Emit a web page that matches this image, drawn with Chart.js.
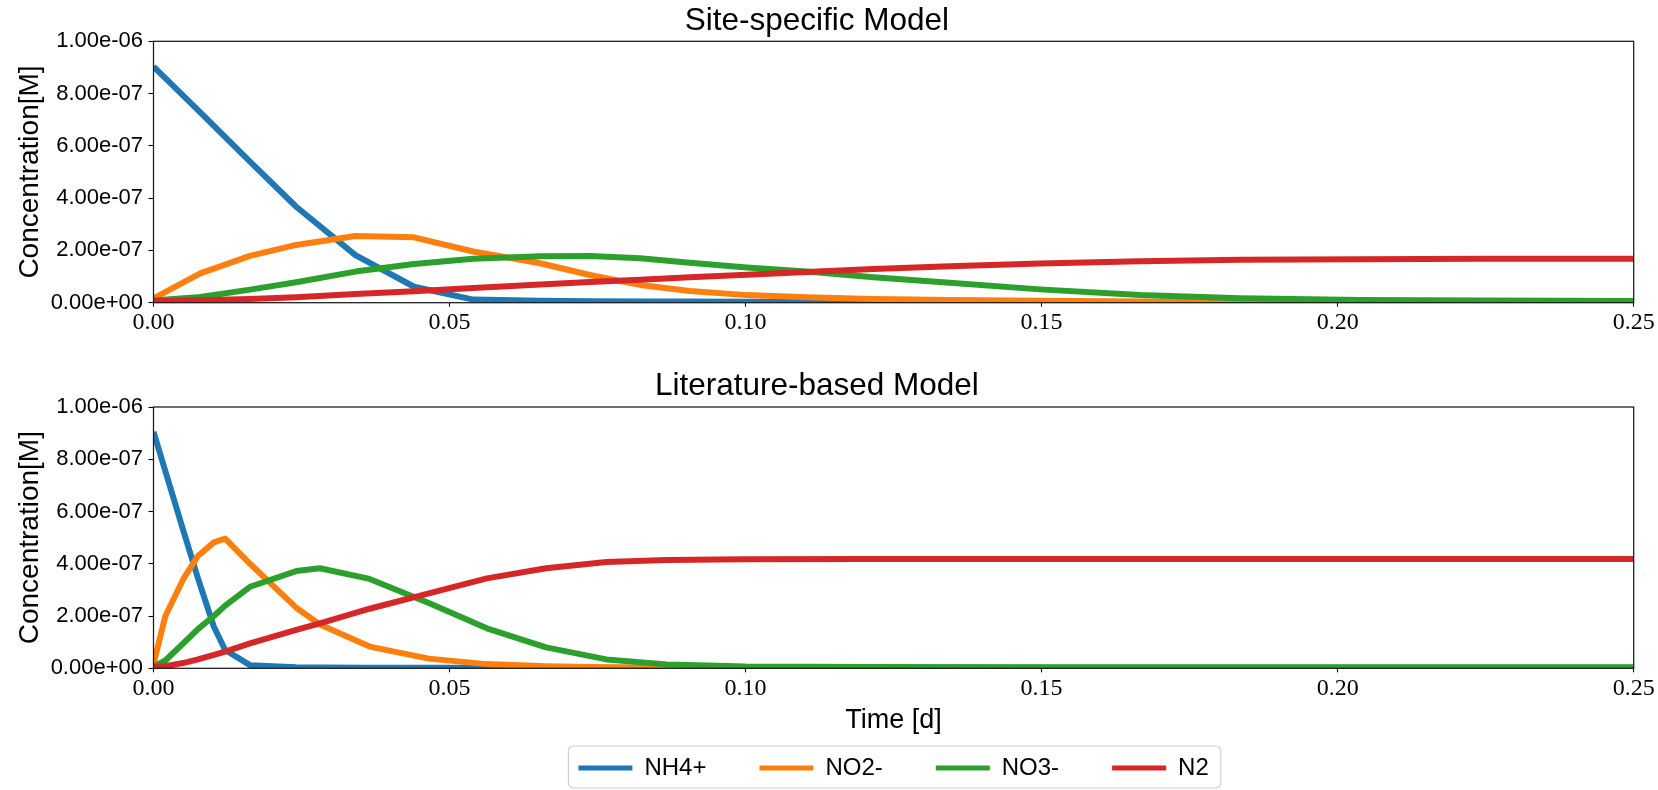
<!DOCTYPE html>
<html>
<head>
<meta charset="utf-8">
<script src="https://cdn.jsdelivr.net/npm/chart.js@4.4.1/dist/chart.umd.min.js"></script>
<style>
  html, body { margin: 0; padding: 0; background: #fff; overflow: hidden; }
  #wrap { position: relative; width: 1658px; height: 790px; }
  canvas { position: absolute; left: 0; }
  #sitePanel { top: 0; }
  #litPanel { top: 349px; }
</style>
</head>
<body>
<div id="wrap">
  <canvas id="sitePanel" width="1658" height="349"></canvas>
  <canvas id="litPanel" width="1658" height="441"></canvas>
</div>
<script>
// Axis ticks
const xTicks = [0, 0.05, 0.10, 0.15, 0.20, 0.25];
const yTicks = [0, 2e-7, 4e-7, 6e-7, 8e-7, 1e-6];

// Species shown in both panels
const seriesNames = ['NH4+', 'NO2-', 'NO3-', 'N2'];
const seriesColors = ['#1f77b4', '#ff7f0e', '#2ca02c', '#d62728'];

// Site-specific model: time [d] and concentrations [M]
const timeSite = [0, 0.0079, 0.0163, 0.0241, 0.0341, 0.044, 0.054, 0.0653, 0.0737, 0.0822,
                  0.0906, 0.1002, 0.1103, 0.1216, 0.1345, 0.1497, 0.1666, 0.1835, 0.2038, 0.225, 0.25];
const nh4Site = [9.03e-7, 7.28e-7, 5.40e-7, 3.67e-7, 1.82e-7, 0.61e-7, 0.12e-7, 0.07e-7, 0.06e-7, 0.05e-7,
                 0.05e-7, 0.04e-7, 0.04e-7, 0.04e-7, 0.03e-7, 0.03e-7, 0.03e-7, 0.03e-7, 0.03e-7, 0.03e-7, 0.03e-7];
const no2Site = [0.17e-7, 1.12e-7, 1.79e-7, 2.21e-7, 2.55e-7, 2.50e-7, 1.96e-7, 1.51e-7, 1.06e-7, 0.68e-7,
                 0.45e-7, 0.29e-7, 0.21e-7, 0.14e-7, 0.10e-7, 0.07e-7, 0.05e-7, 0.04e-7, 0.03e-7, 0.03e-7, 0.02e-7];
const no3Site = [0.08e-7, 0.22e-7, 0.50e-7, 0.78e-7, 1.19e-7, 1.48e-7, 1.68e-7, 1.78e-7, 1.79e-7, 1.70e-7,
                 1.53e-7, 1.35e-7, 1.19e-7, 0.97e-7, 0.76e-7, 0.51e-7, 0.29e-7, 0.17e-7, 0.10e-7, 0.08e-7, 0.065e-7];
const n2Site  = [0.06e-7, 0.09e-7, 0.14e-7, 0.21e-7, 0.33e-7, 0.44e-7, 0.56e-7, 0.70e-7, 0.79e-7, 0.88e-7,
                 0.97e-7, 1.07e-7, 1.17e-7, 1.29e-7, 1.39e-7, 1.50e-7, 1.59e-7, 1.64e-7, 1.665e-7, 1.68e-7, 1.685e-7];

// Literature-based model: time [d] and concentrations [M]
const timeLit = [0, 0.002, 0.005, 0.0075, 0.0102, 0.0121, 0.0163, 0.0241, 0.0281, 0.0365,
                 0.0465, 0.0563, 0.0663, 0.0765, 0.0867, 0.1, 0.12, 0.15, 0.2, 0.25];
const nh4Lit = [9.05e-7, 7.55e-7, 5.30e-7, 3.45e-7, 1.59e-7, 0.70e-7, 0.12e-7, 0.04e-7, 0.03e-7, 0.02e-7,
                0.02e-7, 0.02e-7, 0.02e-7, 0.02e-7, 0.02e-7, 0.02e-7, 0.02e-7, 0.02e-7, 0.02e-7, 0.02e-7];
const no2Lit = [0.15e-7, 2.00e-7, 3.40e-7, 4.30e-7, 4.82e-7, 4.96e-7, 4.00e-7, 2.32e-7, 1.68e-7, 0.83e-7,
                0.37e-7, 0.16e-7, 0.08e-7, 0.04e-7, 0.02e-7, 0.01e-7, 0.01e-7, 0.01e-7, 0.01e-7, 0.01e-7];
const no3Lit = [0.05e-7, 0.30e-7, 0.95e-7, 1.50e-7, 2.00e-7, 2.40e-7, 3.12e-7, 3.72e-7, 3.83e-7, 3.42e-7,
                2.50e-7, 1.53e-7, 0.80e-7, 0.34e-7, 0.15e-7, 0.07e-7, 0.05e-7, 0.04e-7, 0.04e-7, 0.04e-7];
const n2Lit  = [0.05e-7, 0.08e-7, 0.20e-7, 0.34e-7, 0.51e-7, 0.64e-7, 0.95e-7, 1.47e-7, 1.72e-7, 2.28e-7,
                2.87e-7, 3.44e-7, 3.83e-7, 4.07e-7, 4.14e-7, 4.17e-7, 4.18e-7, 4.18e-7, 4.18e-7, 4.18e-7];

// "2.00e-07" style labels with a two-digit exponent
function sciLabel(v) {
  if (Math.abs(v) < 1e-15) return '0.00e+00';
  const parts = v.toExponential(2).split('e');
  const n = parseInt(parts[1], 10);
  return parts[0] + 'e' + (n < 0 ? '-' : '+') + String(Math.abs(n)).padStart(2, '0');
}

const SANS = 'Liberation Sans';
const SERIF = 'Liberation Serif';

// Black frame around the plotting area
const frame = {
  id: 'frame',
  afterDatasetsDraw(chart) {
    const { ctx, chartArea: a } = chart;
    ctx.save();
    ctx.strokeStyle = '#1a1a1a';
    ctx.lineWidth = 1.25;
    ctx.strokeRect(a.left, a.top, a.right - a.left, a.bottom - a.top);
    ctx.restore();
  }
};

// Rounded light-grey box around the legend entries
const legendFrame = {
  id: 'legendFrame',
  afterDraw(chart) {
    const lg = chart.legend;
    if (!lg || !lg.options.display || !lg.legendHitBoxes || !lg.legendHitBoxes.length) return;
    const hb = lg.legendHitBoxes;
    let left = Infinity, right = -Infinity;
    hb.forEach(h => { left = Math.min(left, h.left); right = Math.max(right, h.left + h.width); });
    const cy = hb[0].top + hb[0].height / 2;
    const x0 = left - 10, x1 = right + 12, y0 = cy - 22, y1 = cy + 20;
    const ctx = chart.ctx;
    ctx.save();
    ctx.strokeStyle = '#d0d0d0';
    ctx.lineWidth = 1.2;
    ctx.beginPath();
    ctx.roundRect(x0, y0, x1 - x0, y1 - y0, 5);
    ctx.stroke();
    ctx.restore();
  }
};

function buildDatasets(time, series) {
  return series.map((vals, i) => ({
    label: seriesNames[i],
    data: time.map((t, k) => ({ x: t, y: vals[k] })),
    borderColor: seriesColors[i],
    backgroundColor: seriesColors[i],
    borderWidth: 6,
    borderJoinStyle: 'round',
    borderCapStyle: 'butt',
    pointRadius: 0,
    pointHoverRadius: 0,
    tension: 0,
    fill: false,
    clip: 0,
    order: series.length - i
  }));
}

function makePanel(canvasId, titleText, titlePad, time, series, xHeight, withLegend) {
  const tickGrid = (len) => ({
    display: true, drawOnChartArea: false, drawTicks: true,
    tickLength: len, tickWidth: 1.1, tickColor: '#000', color: '#000'
  });
  return new Chart(document.getElementById(canvasId), {
    type: 'line',
    data: { datasets: buildDatasets(time, series) },
    options: {
      responsive: false,
      animation: false,
      devicePixelRatio: 1,
      events: [],
      layout: { padding: { left: 0, right: 24.3, top: 0, bottom: 0 } },
      scales: {
        x: {
          type: 'linear', min: 0, max: 0.25,
          afterBuildTicks: s => { s.ticks = xTicks.map(v => ({ value: v })); },
          afterFit: s => { s.height = xHeight; },
          ticks: {
            callback: v => Number(v).toFixed(2),
            font: { family: SERIF, size: 24 },
            color: '#000', padding: 2, maxRotation: 0, autoSkip: false
          },
          grid: tickGrid(4),
          border: { display: false },
          title: withLegend ? {
            display: true, text: 'Time [d]', color: '#000',
            font: { family: SANS, size: 27 },
            padding: { top: 0, bottom: -34.2 }
          } : { display: false }
        },
        y: {
          min: 0, max: 1e-6,
          afterBuildTicks: s => { s.ticks = yTicks.map(v => ({ value: v })); },
          afterFit: s => { s.width = 153.5; },
          ticks: {
            callback: v => sciLabel(v),
            font: { family: SANS, size: 22 },
            color: '#000', padding: 5.5
          },
          grid: tickGrid(5),
          border: { display: false },
          title: {
            display: true, text: 'Concentration[M]', color: '#000',
            font: { family: SANS, size: 28 },
            padding: { top: 13.2, bottom: 0 }
          }
        }
      },
      plugins: {
        title: {
          display: true, text: titleText, color: '#000',
          font: { family: SANS, size: 31.5, weight: 'normal' },
          padding: titlePad
        },
        tooltip: { enabled: false },
        legend: withLegend ? {
          display: true, position: 'bottom', fullSize: false, align: 'center',
          labels: {
            boxWidth: 54, boxHeight: 5, padding: 53, color: '#000',
            font: { family: SANS, size: 24 },
            sort: (a, b) => a.datasetIndex - b.datasetIndex,
            generateLabels(chart) {
              const items = Chart.defaults.plugins.legend.labels.generateLabels(chart);
              items.forEach(it => { it.lineWidth = 0; it.fillStyle = seriesColors[it.datasetIndex]; });
              return items;
            }
          }
        } : { display: false }
      }
    },
    plugins: withLegend ? [frame, legendFrame] : [frame]
  });
}

makePanel('sitePanel', 'Site-specific Model', { top: 2, bottom: 1.5 },
  timeSite, [nh4Site, no2Site, no3Site, n2Site], 46.3, false);

makePanel('litPanel', 'Literature-based Model', { top: 18, bottom: 2.2 },
  timeLit, [nh4Lit, no2Lit, no3Lit, n2Lit], 34.7, true);
</script>
</body>
</html>
